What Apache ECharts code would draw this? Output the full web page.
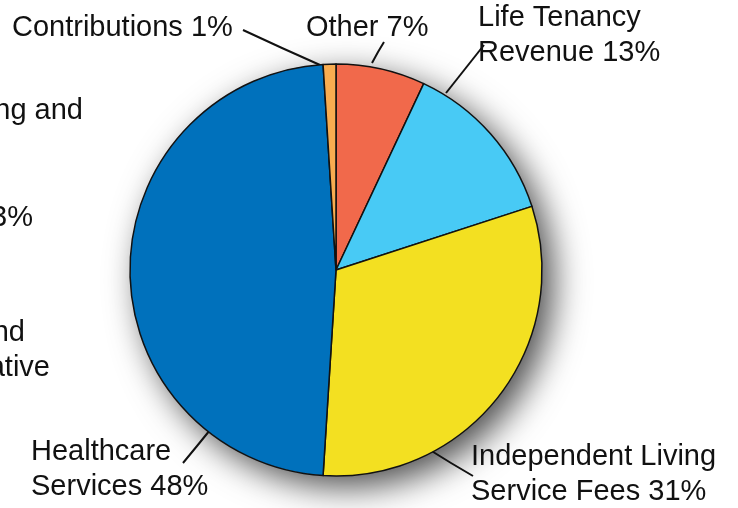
<!DOCTYPE html>
<html><head><meta charset="utf-8">
<script src="https://cdn.jsdelivr.net/npm/echarts@6/dist/echarts.min.js"></script>
<style>html,body{margin:0;padding:0;background:#fff}#c{width:738px;height:508px}</style>
</head><body><div id="c"></div>
<script>
const categories = ["Other", "Life Tenancy\nRevenue", "Independent Living\nService Fees", "Healthcare\nServices", "Contributions"];
const values = [7, 13, 31, 48, 1];
const colors = ["#F1694B", "#48CAF5", "#F3E021", "#0071BC", "#F8AC50"];
const fragments = ["ing and", "13%", "and", "rative"];

const labelPos = [
  {x: 306, y: 10, pts: [[372,63],[378,52],[384,42]]},
  {x: 478, y: 0, pts: [[446,93],[465,69],[484,45]]},
  {x: 471, y: 439, pts: [[430,450],[451,463],[473,476]]},
  {x: 31, y: 434, pts: [[210,430],[197,446],[183,463]]},
  {x: 12, y: 10, pts: [[320,65],[282,48],[243,30]]}
];
const fragPos = [[83,111],[33,218],[25,333],[50,368]];

const chart = echarts.init(document.getElementById('c'));
chart.setOption({
  animation: false,
  textStyle: {fontFamily: 'Liberation Sans'},
  graphic: fragments.map((t, i) => ({
    type: 'text', x: fragPos[i][0], y: fragPos[i][1],
    style: {text: t, fontFamily: 'Liberation Sans', fontSize: 29, fill: '#111', align: 'right', verticalAlign: 'middle'}
  })),
  series: [
    {
      type: 'pie', silent: true, center: [336, 270], radius: 206,
      label: {show: false}, labelLine: {show: false},
      itemStyle: {color: '#fff', shadowBlur: 34, shadowColor: 'rgba(0,0,0,0.7)', shadowOffsetX: 11, shadowOffsetY: 11},
      data: [{value: 1, name: 'bg'}], z: 1
    },
    {
      type: 'pie', center: [336, 270], radius: 206, startAngle: 90, clockwise: true,
      z: 2,
      data: categories.map((c, i) => ({name: c, value: values[i], itemStyle: {color: colors[i]}})),
      itemStyle: {borderColor: '#111', borderWidth: 1.5},
      label: {
        show: true, position: 'outside', fontSize: 29, lineHeight: 35, color: '#111',
        fontFamily: 'Liberation Sans', overflow: 'none', width: 400,
        formatter: p => p.name + ' ' + p.value + '%'
      },
      labelLine: {show: true, lineStyle: {color: '#111', width: 2}},
      labelLayout: p => {
        const lp = labelPos[p.dataIndex];
        return {x: lp.x, y: lp.y, align: 'left', verticalAlign: 'top', labelLinePoints: lp.pts};
      }
    }
  ]
});
</script></body></html>
